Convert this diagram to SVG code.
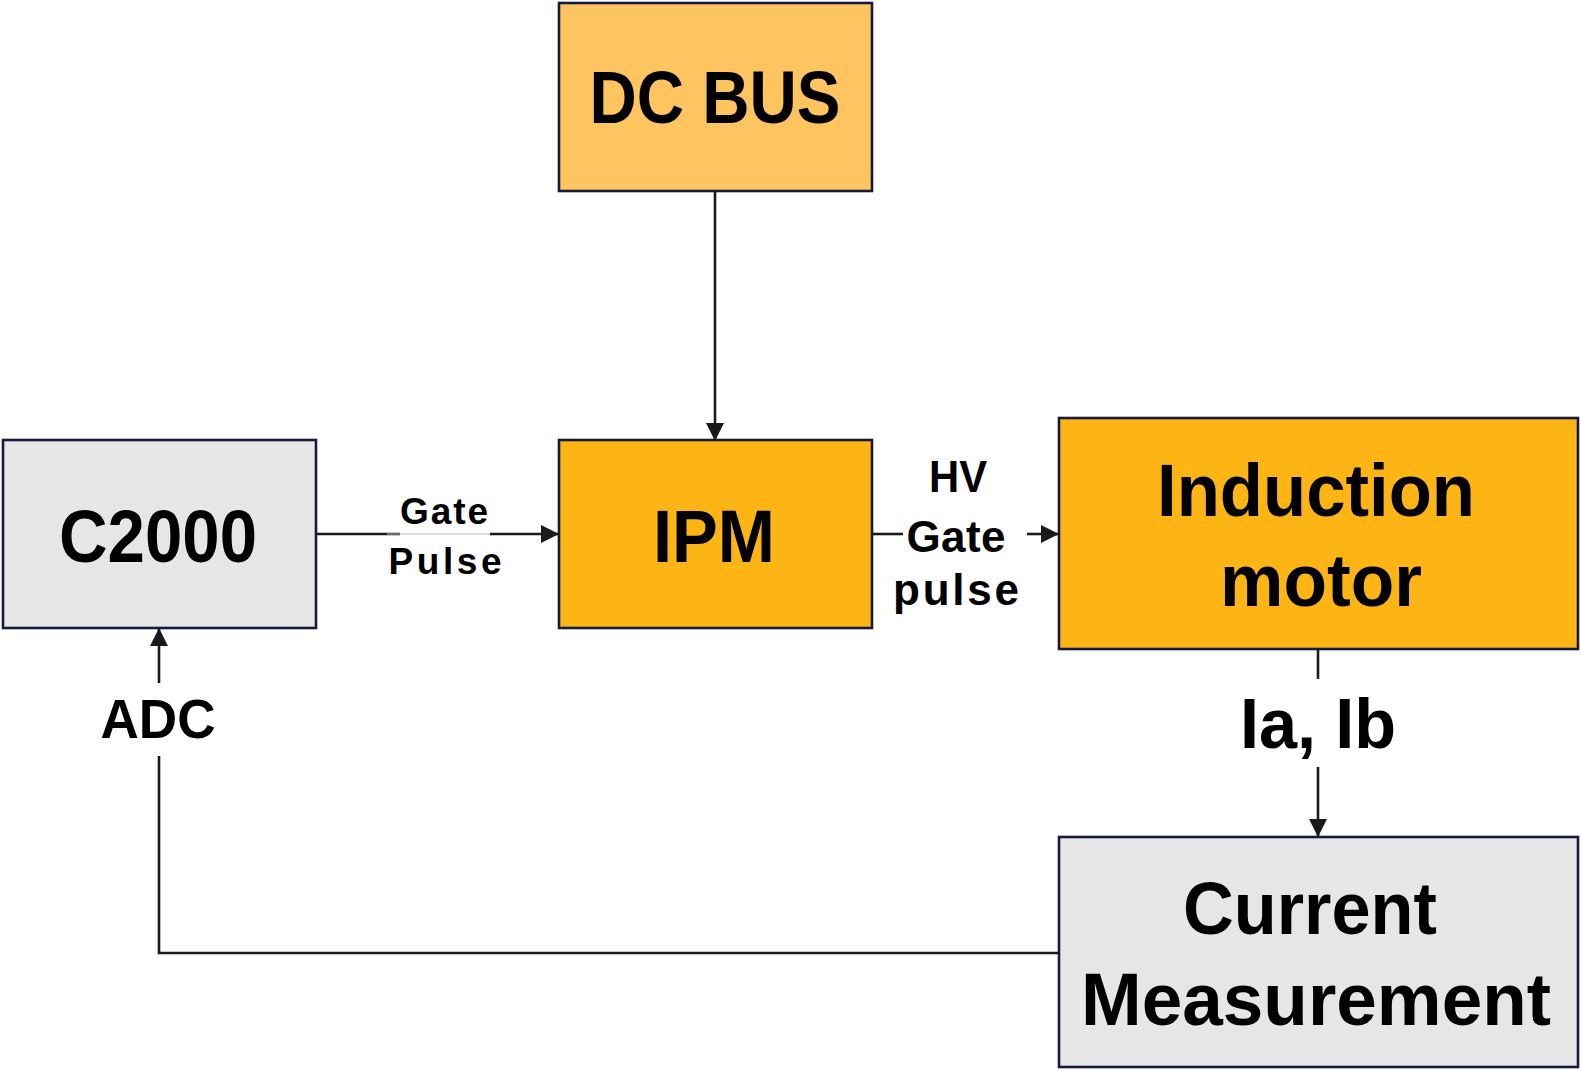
<svg xmlns="http://www.w3.org/2000/svg" width="1581" height="1072" viewBox="0 0 1581 1072">
<defs>
<style>
.box{stroke:#161a3e;stroke-width:2.6}
.grey{fill:#e6e6e6}
.amber{fill:#fdb515}
.light{fill:#fdc45f}
.big{font-family:"Liberation Sans",Arial,sans-serif;font-weight:bold;font-size:75px;fill:#000;text-anchor:middle}
.mid{font-family:"Liberation Sans",Arial,sans-serif;font-weight:bold;font-size:70px;fill:#000;text-anchor:middle}
.adc{font-family:"Liberation Sans",Arial,sans-serif;font-weight:bold;font-size:56px;fill:#000;text-anchor:middle}
.small{font-family:"Liberation Sans",Arial,sans-serif;font-weight:bold;font-size:44px;fill:#000;text-anchor:middle}
.lbl{font-family:"Liberation Sans",Arial,sans-serif;font-weight:bold;font-size:37px;fill:#000;text-anchor:middle}
.wire{stroke:#1a1a1a;stroke-width:2.6;fill:none}
</style>
<marker id="arr" viewBox="0 0 18 18" refX="18" refY="9" markerWidth="18" markerHeight="18" markerUnits="userSpaceOnUse" orient="auto">
<path d="M0,0 L18,9 L0,18 Z" fill="#1a1a1a"/>
</marker>
</defs>
<rect width="1581" height="1072" fill="#fff"/>
<g id="connectors">
<line class="wire" x1="715" y1="191" x2="715" y2="441" marker-end="url(#arr)"/>
<line class="wire" x1="316" y1="534" x2="400" y2="534"/>
<line x1="387" y1="534" x2="503" y2="534" stroke="#c0c0c0" stroke-width="1.2"/>
<line class="wire" x1="490" y1="534" x2="559" y2="534" marker-end="url(#arr)"/>
<line class="wire" x1="872" y1="534" x2="903" y2="534"/>
<line class="wire" x1="1027" y1="534" x2="1059" y2="534" marker-end="url(#arr)"/>
<line class="wire" x1="1318" y1="650" x2="1318" y2="679"/>
<line class="wire" x1="1318" y1="767" x2="1318" y2="837" marker-end="url(#arr)"/>
<polyline class="wire" points="1059,953 159,953 159,756"/>
<line class="wire" x1="159" y1="683" x2="159" y2="628" marker-end="url(#arr)"/>
<text class="lbl" x="444" y="524" textLength="88" lengthAdjust="spacing">Gate</text>
<text class="lbl" x="445" y="574" textLength="113" lengthAdjust="spacing">Pulse</text>
<text class="small" x="958" y="492" textLength="58" lengthAdjust="spacingAndGlyphs">HV</text>
<text class="small" x="956" y="552" textLength="99" lengthAdjust="spacing">Gate</text>
<text class="small" x="956" y="605" textLength="126" lengthAdjust="spacing">pulse</text>
<text class="mid" x="1318" y="748" textLength="156" lengthAdjust="spacingAndGlyphs">Ia, Ib</text>
<text class="adc" x="158" y="738" textLength="115" lengthAdjust="spacingAndGlyphs">ADC</text>
</g>
<g id="dcbus">
<rect class="box light" x="559" y="3" width="313" height="188"/>
<text class="big" x="715" y="123" textLength="251" lengthAdjust="spacingAndGlyphs">DC BUS</text>
</g>
<g id="c2000">
<rect class="box grey" x="3" y="440" width="313" height="188"/>
<text class="big" x="158" y="562" textLength="198" lengthAdjust="spacingAndGlyphs">C2000</text>
</g>
<g id="ipm">
<rect class="box amber" x="559" y="440" width="313" height="188"/>
<text class="big" x="714" y="562" textLength="122" lengthAdjust="spacingAndGlyphs">IPM</text>
</g>
<g id="induction">
<rect class="box amber" x="1059" y="418" width="519" height="231"/>
<text class="big" x="1316" y="516" textLength="318" lengthAdjust="spacingAndGlyphs">Induction</text>
<text class="big" x="1321" y="606" textLength="202" lengthAdjust="spacingAndGlyphs">motor</text>
</g>
<g id="current">
<rect class="box grey" x="1059" y="837" width="519" height="230"/>
<text class="big" x="1310" y="934" textLength="254" lengthAdjust="spacingAndGlyphs">Current</text>
<text class="big" x="1316" y="1025" textLength="470" lengthAdjust="spacingAndGlyphs">Measurement</text>
</g>
</svg>
